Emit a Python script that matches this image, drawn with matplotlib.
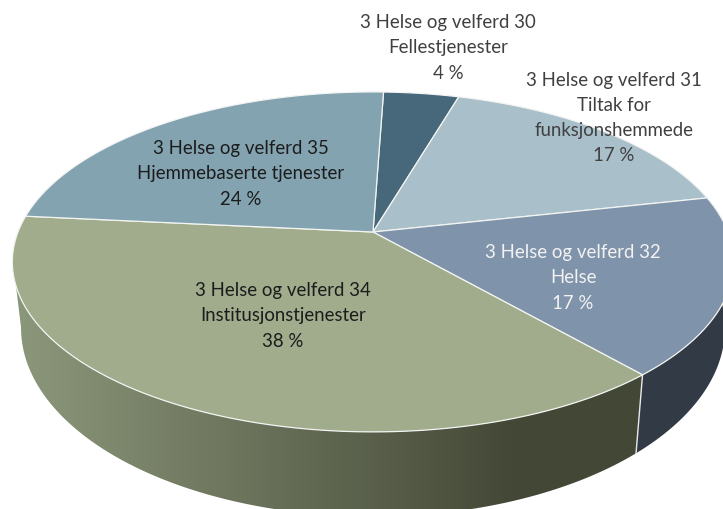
"""3D style pie chart of Helse og velferd budget shares."""

import matplotlib

matplotlib.use("Agg")

import matplotlib.pyplot as plt
import numpy as np
from matplotlib.colors import LinearSegmentedColormap
from matplotlib.patches import Polygon

labels = [
    "3 Helse og velferd 30\nFellestjenester\n4 %",
    "3 Helse og velferd 31\nTiltak for\nfunksjonshemmede\n17 %",
    "3 Helse og velferd 32\nHelse\n17 %",
    "3 Helse og velferd 34\nInstitusjonstjenester\n38 %",
    "3 Helse og velferd 35\nHjemmebaserte tjenester\n24 %",
]
shares = [4, 17, 17, 38, 24]
top_colors = ["#46687a", "#a9bfca", "#7f93aa", "#a0ac8c", "#83a3b1"]
label_colors = ["#404040", "#404040", "#f2f2f2", "#1c1c1c", "#1c1c1c"]
label_pos = [(448, 48), (614, 118), (573, 278), (283, 316), (241, 174)]

START_ANGLE = 88.0
CX, CY = 373.0, 233.0
RX, RY, TILT = 355.0, 164.7, 0.176
# how far round the rim each wall edge runs on the left silhouette
WALL_TOP_END = -162.0
WALL_BOTTOM_END = -170.0


def top_ring(t):
    w = 1 + TILT * np.sin(t)
    return CX + RX * np.cos(t) / w, CY - RY * np.sin(t) / w


def bottom_ring(t):
    x, y = top_ring(t)
    return CX + 0.976 * (x - CX), 329 + 1.11 * (y - 263)


def arc(a1, a2, n=200):
    return np.radians(np.linspace(a1, a2, n))


plt.rcParams["font.family"] = ["Lato", "DejaVu Sans"]
fig = plt.figure(figsize=(7.23, 5.10), dpi=100)
ax = fig.add_axes([0, 0, 1, 1])
ax.set_xlim(0, 723)
ax.set_ylim(510, 0)
ax.axis("off")

ends = START_ANGLE - 3.6 * np.cumsum(shares)
starts = np.r_[START_ANGLE, ends[:-1]]

# side walls, only the two front slices are visible
side_cmaps = {
    2: LinearSegmentedColormap.from_list("slate", ["#333b47", "#323a46"]),
    3: LinearSegmentedColormap.from_list(
        "olive",
        [(0, "#8b977a"), (0.33, "#6f775f"), (0.8, "#434836"), (1, "#434836")],
    ),
}
for i, cmap in side_cmaps.items():
    xt, yt = top_ring(arc(starts[i], max(ends[i], WALL_TOP_END)))
    xb, yb = bottom_ring(arc(starts[i], max(ends[i], WALL_BOTTOM_END)))
    poly = Polygon(
        np.c_[np.r_[xt, xb[::-1]], np.r_[yt, yb[::-1]]],
        closed=True, facecolor="none", edgecolor="none",
    )
    ax.add_patch(poly)
    img = ax.imshow(
        np.linspace(0, 1, 256)[None, :], cmap=cmap, aspect="auto",
        extent=(min(xt.min(), xb.min()), max(xt.max(), xb.max()), 520, 0),
        zorder=1,
    )
    img.set_clip_path(poly)

ax.set_xlim(0, 723)
ax.set_ylim(510, 0)

# thin line between the two side walls
x0, y0 = top_ring(np.radians(ends[2]))
x1, y1 = bottom_ring(np.radians(ends[2]))
ax.plot([x0, x1], [y0, y1], color="#e8e8e8", lw=1, zorder=2)

for i in range(len(shares)):
    x, y = top_ring(arc(starts[i], ends[i]))
    ax.fill(
        np.r_[CX, x], np.r_[CY, y], facecolor=top_colors[i],
        edgecolor="#f2f4f2", lw=0.9, zorder=3, joinstyle="round",
    )

for text, pos, color in zip(labels, label_pos, label_colors):
    ax.text(
        pos[0], pos[1], text, ha="center", va="center", color=color,
        fontsize=13.4, linespacing=1.58, zorder=4,
    )

fig.savefig("out.png", dpi=100)
